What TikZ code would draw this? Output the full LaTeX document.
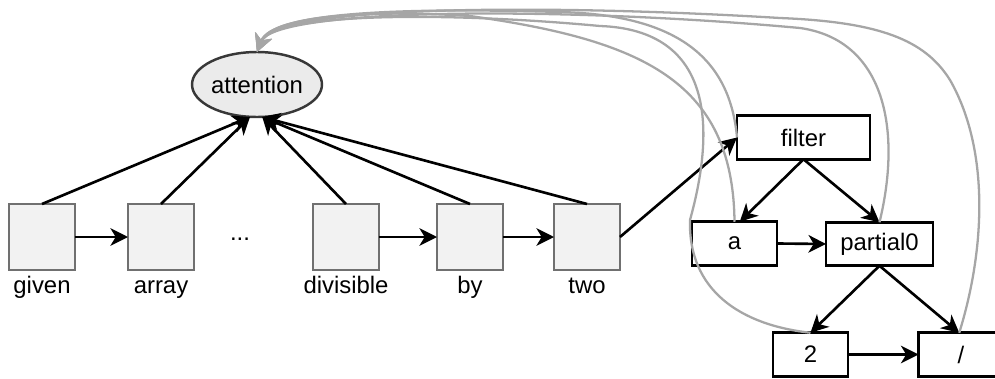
\documentclass[tikz,border=0pt]{standalone}
\usepackage{fontspec}
\setmainfont{Liberation Sans}
\usepackage{xcolor}
\usetikzlibrary{shapes.geometric,arrows.meta}
\definecolor{tokfill}{HTML}{F2F2F2}
\definecolor{tokline}{HTML}{707070}
\definecolor{attfill}{HTML}{EBEBEB}
\definecolor{attline}{HTML}{383838}
\definecolor{backgray}{HTML}{A6A6A6}

\begin{document}
\begin{tikzpicture}[x=0.02cm,y=-0.02cm,
  font=\fontsize{13.6pt}{16pt}\selectfont,
  tok/.style={draw=tokline,fill=tokfill,line width=1.4pt,minimum width=1.32cm,minimum height=1.32cm,outer sep=0pt},
  ast/.style={draw=black,fill=white,line width=1.5pt,minimum height=0.87cm,inner sep=0pt,outer sep=0pt},
  word/.style={anchor=base,inner sep=0pt},
  arr/.style={line width=1.5pt,-{Stealth[length=10pt,width=10pt,inset=3pt]}},
  back/.style={arr,line width=1.3pt,draw=backgray}]
\useasboundingbox (0,0) rectangle (995,379);
\clip (0,0) rectangle (995,379);
\node[ellipse,draw=attline,fill=attfill,line width=1.4pt,minimum width=2.6cm,minimum height=1.3cm,inner sep=0pt,outer sep=0pt] (attention) at (257,84.5) {attention};
\foreach \n/\x in {given/42,array/161,divisible/346,by/470,two/587}
{\node[tok] (\n) at (\x,237) {};
\node[word] (w\n) at (\x,293) {\n};}
\node[word] (dots) at (240,240) {...};
\node[ast,minimum width=2.66cm] (filter) at (803.5,137.5) {filter};
\node[ast,minimum width=1.7cm] (a) at (734.5,243.5) {a};
\node[ast,minimum width=2.14cm] (partial) at (879.5,244) {partial0};
\node[ast,minimum width=1.5cm] (n2) at (810.5,354.5) {2};
\node[ast,minimum width=1.7cm] (slash) at (961,354.5) {/};
\foreach \n/\s in {given/-4pt,array/-4pt,divisible/3pt,by/3pt,two/3pt}
\draw[arr] (\n.north) -- ([xshift=\s]attention.south);
\draw[arr] (given.east) -- (array.west);
\draw[arr] (divisible.east) -- (by.west);
\draw[arr] (by.east) -- (two.west);
\draw[arr] (two.east) -- (filter.west);
\draw[arr] (filter.south) -- ([xshift=3pt]a.north);
\draw[arr] (filter.south) -- (partial.north);
\draw[arr] (a.east) -- (partial.west);
\draw[arr] (partial.south) -- (n2.north);
\draw[arr] (partial.south) -- ([xshift=-1pt]slash.north);
\draw[arr] (n2.east) -- (slash.west);
\draw[back] (filter.west) .. controls (730,60) and (680,15) .. (560,12) .. controls (420,8) and (273,10) .. (attention.north);
\draw[back] (a.north) .. controls (733,80) and (640,40) .. (470,16) .. controls (380,10) and (272,14) .. (attention.north);
\draw[back] (partial.north) .. controls (902,130) and (885,40) .. (800,28) .. controls (560,6) and (275,8) .. (attention.north);
\draw[back] (n2.north) .. controls (740,325) and (688,290) .. (690,220) .. controls (715,130) and (715,30) .. (600,26) .. controls (450,12) and (274,12) .. (attention.north);
\draw[back] ([xshift=-1pt]slash.north) .. controls (985,250) and (990,150) .. (950,80) .. controls (925,40) and (880,22) .. (780,18) .. controls (550,4) and (275,5) .. (attention.north);
\end{tikzpicture}
\end{document}
